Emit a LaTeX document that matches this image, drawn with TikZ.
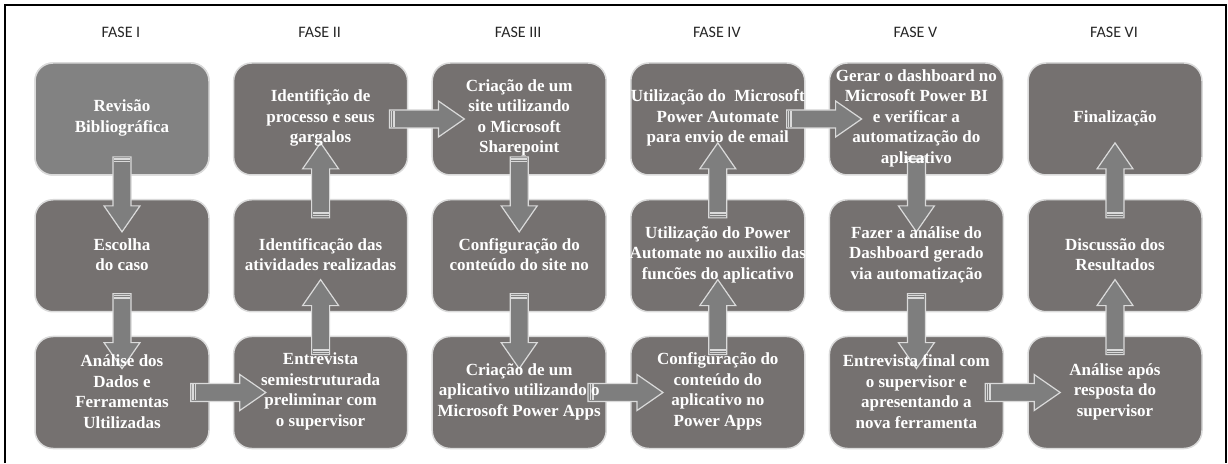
\documentclass[tikz,border=0pt]{standalone}
\usepackage{fontspec}
\setmainfont{Liberation Serif}
\newfontfamily\fasefont{Carlito}
\usetikzlibrary{calc}

\definecolor{cinzaescuro}{HTML}{757170}
\definecolor{cinzaclaro}{HTML}{828282}
\definecolor{cinzaseta}{HTML}{7E7E7E}
\definecolor{borda}{HTML}{DADADA}

% seta em bloco entre duas caixas: #1 origem, #2 destino, #3 angulo
\newcommand{\seta}[3]{%
  \coordinate (m) at ($(#1)!0.5!(#2)$);
  \begin{scope}[shift={($(m)!7pt!(#2)$)}, rotate=#3]
    \draw[setabloco] (-37.5,-9) -- (11.5,-9) -- (11.5,-18) -- (37.5,0)
      -- (11.5,18) -- (11.5,9) -- (-37.5,9) -- cycle;
    \fill[borda] (-36,-8) rectangle (-32,8);
    \draw[cinzaseta, line width=0.8] (-34.3,-8) -- (-34.3,8);
  \end{scope}}

\begin{document}
\begin{tikzpicture}[x=1pt, y=1pt,
  caixa/.style={draw=borda, line width=1.5, rounded corners=18,
    minimum width=174, minimum height=112, inner sep=0},
  texto/.style={align=center, text=white, inner sep=1,
    font=\fontsize{17}{20.5}\selectfont\bfseries},
  setabloco/.style={draw=borda, line width=1.2, fill=cinzaseta},
  fase/.style={font=\fasefont\fontsize{16}{19}\selectfont, text=black!85}]
\useasboundingbox (0,0) rectangle (1228,463);
% Moldura
\draw[line width=2.5] (5,0) -- (5,458) -- (1226,458) -- (1226,0);
% Fases
\foreach \c/\nome in {1/I,2/II,3/III,4/IV,5/V,6/VI} {
  \node[fase] (f\c) at ({121+198.6*(\c-1)},431) {FASE \nome};
}
% Caixas
\foreach \c in {1,...,6} {
  \foreach \l in {1,2,3} {
    \node[caixa, fill=cinzaescuro] (c\c\l) at ({122+198.6*(\c-1)},{344-136.75*(\l-1)}) {};
  }
}
\node[caixa, fill=cinzaclaro] (c11) at (122,344) {};
% Setas
\seta{c11}{c12}{-90} \seta{c12}{c13}{-90} \seta{c13}{c23}{0}
\seta{c23}{c22}{90}  \seta{c22}{c21}{90}  \seta{c21}{c31}{0}
\seta{c31}{c32}{-90} \seta{c32}{c33}{-90} \seta{c33}{c43}{0}
\seta{c43}{c42}{90}  \seta{c42}{c41}{90}  \seta{c41}{c51}{0}
\seta{c51}{c52}{-90} \seta{c52}{c53}{-90} \seta{c53}{c63}{0}
\seta{c63}{c62}{90}  \seta{c62}{c61}{90}
% Textos
\foreach \c/\l/\txt in {
  1/1/{Revisão\\Bibliográfica},
  1/2/{Escolha\\do caso},
  1/3/{Análise dos\\Dados e\\Ferramentas\\Ultilizadas},
  2/1/{Identifição de\\processo e seus\\gargalos},
  2/2/{Identificação das\\atividades realizadas},
  2/3/{Entrevista\\semiestruturada\\preliminar com\\o supervisor},
  3/1/{Criação de um\\site utilizando\\o Microsoft\\Sharepoint},
  3/2/{Configuração do\\conteúdo do site no},
  3/3/{Criação de um\\aplicativo utilizando o\\Microsoft Power Apps},
  4/1/{Utilização do\ \ Microsoft\\Power Automate\\para envio de email},
  4/2/{Utilização do Power\\Automate no auxilio das\\funcões do aplicativo},
  4/3/{Configuração do\\conteúdo do\\aplicativo no\\Power Apps},
  5/1/{Gerar o dashboard no\\Microsoft Power BI\\e verificar a\\automatização do\\aplicativo},
  5/2/{Fazer a análise do\\Dashboard gerado\\via automatização},
  5/3/{Entrevista final com\\o supervisor e\\apresentando a\\nova ferramenta},
  6/1/{Finalização},
  6/2/{Discussão dos\\Resultados},
  6/3/{Análise após\\resposta do\\supervisor}} {
  \node[texto] (t\c\l) at ($(c\c\l)+(0,1)$) {\txt};
}
\end{tikzpicture}
\end{document}
